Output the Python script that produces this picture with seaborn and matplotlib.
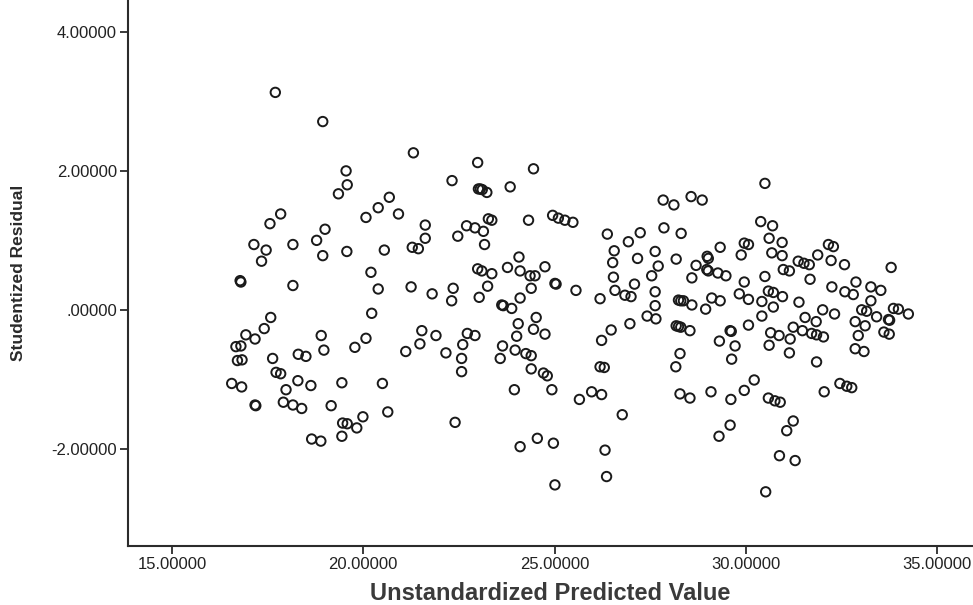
import matplotlib
matplotlib.use("Agg")
import matplotlib.pyplot as plt
import matplotlib.ticker as mticker
import seaborn as sns
import pandas as pd

# Unstandardized predicted values (x) and studentized residuals (y)
predicted = [
    16.78, 16.80, 16.93, 16.67, 16.80, 16.71, 16.83, 16.56, 16.82,
    17.70, 18.94, 19.55, 19.58, 19.35, 17.84, 17.56, 19.00, 18.78, 17.14, 17.46, 18.16, 18.94, 19.57,
    17.34, 18.16, 17.58, 17.41, 17.17, 18.90, 18.97, 17.63, 18.30, 18.50, 17.72, 17.84, 18.29, 17.98,
    18.63, 19.44, 17.17, 17.19, 17.91, 18.16, 18.39, 19.16, 19.46, 19.58, 19.44, 18.65, 18.89,
    21.31, 22.32, 20.68, 20.39, 20.07, 20.92, 21.62, 21.62, 20.55, 21.28, 21.44, 20.20, 20.39, 21.25,
    21.80, 22.35, 22.31, 20.22, 20.07, 19.78, 21.53, 21.90, 21.48, 21.11, 22.16, 20.50, 20.64, 19.99,
    19.83, 22.40,
    22.99, 24.45, 23.01, 23.06, 23.11, 23.23, 23.84, 23.27, 23.36, 24.32, 22.70, 22.92, 23.14, 22.47,
    23.17, 24.07, 22.99, 23.10, 23.36, 23.77, 24.10, 24.36, 24.49, 24.75, 23.25, 23.03, 24.39, 24.10,
    23.62, 23.66, 23.88, 24.52, 24.05, 24.45, 24.75, 22.72, 22.92, 22.60, 24.01, 23.64, 23.97, 24.25,
    24.39, 23.58, 22.57, 22.57, 24.39, 24.71, 24.81, 23.95, 24.93, 24.55, 24.10, 24.97, 25.01,
    24.95, 25.10, 25.27, 25.48, 26.38, 26.93, 27.24, 26.56, 27.17, 26.52, 25.01, 25.04, 25.56, 26.19,
    26.54, 27.09, 26.58, 26.84, 27.00, 27.42, 26.48, 26.23, 26.97, 26.19, 26.30, 25.97, 26.23, 25.65,
    26.77, 26.32, 26.36,
    27.84, 28.12, 28.57, 28.86, 27.86, 28.31, 29.33, 27.63, 29.96, 30.07, 29.88, 28.18, 28.99, 29.02,
    28.70, 27.71, 28.98, 29.02, 29.27, 29.48, 27.54, 28.59, 29.96, 27.63, 29.83, 30.07, 27.63, 28.24,
    28.30, 28.37, 28.59, 29.11, 29.33, 28.95, 27.65, 28.18, 28.24, 28.30, 28.54, 29.59, 29.62, 30.07,
    29.31, 29.72, 29.63, 28.28, 28.17, 29.96, 28.28, 28.54, 29.09, 29.61, 29.59, 29.30,
    30.50, 30.39, 30.70, 30.61, 30.95, 32.16, 32.29, 30.68, 30.95, 31.88, 32.23, 32.58, 31.37, 31.52,
    31.66, 30.98, 31.14, 30.50, 31.68, 32.25, 32.59, 30.59, 30.72, 30.96, 30.42, 30.72, 31.39, 32.01,
    32.32, 30.42, 31.24, 31.55, 31.84, 31.48, 31.72, 31.85, 32.03, 30.65, 30.87, 31.16, 30.61, 31.14,
    31.85, 30.22, 32.05, 32.46, 32.64, 30.59, 30.76, 30.90, 31.24, 31.07, 30.88, 31.29, 30.52,
    33.80, 32.88, 32.81, 33.27, 33.53, 33.27, 33.03, 33.16, 33.42, 33.86, 33.99, 34.25, 33.73, 33.76,
    32.86, 33.12, 32.94, 33.61, 33.75, 32.86, 33.09, 32.77,
]

residual = [
    0.42, 0.40, -0.36, -0.53, -0.52, -0.73, -0.72, -1.06, -1.11,
    3.13, 2.71, 2.00, 1.80, 1.67, 1.38, 1.24, 1.16, 1.00, 0.94, 0.86, 0.94, 0.78, 0.84,
    0.70, 0.35, -0.11, -0.27, -0.42, -0.37, -0.58, -0.70, -0.64, -0.67, -0.90, -0.92, -1.02, -1.15,
    -1.09, -1.05, -1.37, -1.38, -1.33, -1.37, -1.42, -1.38, -1.63, -1.64, -1.82, -1.86, -1.89,
    2.26, 1.86, 1.62, 1.47, 1.33, 1.38, 1.22, 1.03, 0.86, 0.90, 0.88, 0.54, 0.30, 0.33,
    0.23, 0.31, 0.13, -0.05, -0.41, -0.54, -0.30, -0.37, -0.49, -0.60, -0.62, -1.06, -1.47, -1.54,
    -1.70, -1.62,
    2.12, 2.03, 1.74, 1.74, 1.73, 1.69, 1.77, 1.31, 1.29, 1.29, 1.21, 1.18, 1.13, 1.06,
    0.94, 0.76, 0.59, 0.56, 0.52, 0.61, 0.56, 0.49, 0.49, 0.62, 0.34, 0.18, 0.31, 0.17,
    0.07, 0.06, 0.02, -0.11, -0.20, -0.28, -0.35, -0.34, -0.37, -0.50, -0.38, -0.52, -0.58, -0.63,
    -0.66, -0.70, -0.70, -0.89, -0.85, -0.91, -0.95, -1.15, -1.15, -1.85, -1.97, -1.92, -2.52,
    1.36, 1.32, 1.29, 1.26, 1.09, 0.98, 1.11, 0.85, 0.74, 0.68, 0.38, 0.37, 0.28, 0.16,
    0.47, 0.37, 0.28, 0.21, 0.19, -0.09, -0.29, -0.44, -0.20, -0.82, -0.83, -1.18, -1.22, -1.29,
    -1.51, -2.02, -2.40,
    1.58, 1.51, 1.63, 1.58, 1.18, 1.10, 0.90, 0.84, 0.96, 0.94, 0.79, 0.73, 0.77, 0.74,
    0.64, 0.63, 0.58, 0.56, 0.53, 0.49, 0.49, 0.46, 0.40, 0.26, 0.23, 0.15, 0.06, 0.14,
    0.13, 0.13, 0.07, 0.17, 0.13, 0.01, -0.13, -0.23, -0.24, -0.25, -0.30, -0.30, -0.31, -0.22,
    -0.45, -0.52, -0.71, -0.63, -0.82, -1.16, -1.21, -1.27, -1.18, -1.29, -1.66, -1.82,
    1.82, 1.27, 1.21, 1.03, 0.97, 0.94, 0.91, 0.82, 0.78, 0.79, 0.71, 0.65, 0.70, 0.67,
    0.65, 0.58, 0.56, 0.48, 0.44, 0.33, 0.26, 0.27, 0.25, 0.19, 0.12, 0.04, 0.11, 0.00,
    -0.06, -0.09, -0.25, -0.11, -0.17, -0.30, -0.34, -0.36, -0.39, -0.33, -0.37, -0.42, -0.51, -0.62,
    -0.75, -1.01, -1.18, -1.06, -1.10, -1.27, -1.31, -1.33, -1.60, -1.74, -2.10, -2.17, -2.62,
    0.61, 0.40, 0.22, 0.33, 0.28, 0.13, 0.00, -0.02, -0.10, 0.02, 0.01, -0.06, -0.14, -0.15,
    -0.17, -0.23, -0.37, -0.32, -0.35, -0.56, -0.60, -1.12,
]

x_ticks = [15.0, 20.0, 25.0, 30.0, 35.0]
y_ticks = [-2.0, 0.0, 2.0, 4.0]
x_label = "Unstandardized Predicted Value"
y_label = "Studentized Residual"

df = pd.DataFrame({"pred": predicted, "resid": residual})

sns.set_style("white")
plt.rcParams["font.family"] = ["Liberation Sans", "DejaVu Sans"]

fig = plt.figure(figsize=(9.73, 6.05), dpi=100)
ax = fig.add_axes([0.1316, 0.0975, 0.8684, 0.9025])

sns.scatterplot(data=df, x="pred", y="resid", ax=ax, s=46,
                facecolor="none", edgecolor="#1a1a1a", linewidth=1.4,
                marker="o", legend=False)

ax.set_xlim(13.85, 35.94)
ax.set_ylim(-3.40, 4.46)
ax.set_xticks(x_ticks)
ax.set_yticks(y_ticks)


def fmt(v, pos=None):
    s = f"{v:.5f}"
    if s.startswith("0."):
        s = s[1:]
    elif s.startswith("-0.") and abs(v) < 1e-9:
        s = s[2:]
    return s


ax.xaxis.set_major_formatter(mticker.FuncFormatter(fmt))
ax.yaxis.set_major_formatter(mticker.FuncFormatter(fmt))

for side in ["top", "right"]:
    ax.spines[side].set_visible(False)
for side in ["left", "bottom"]:
    ax.spines[side].set_color("#2b2b2b")
    ax.spines[side].set_linewidth(1.5)

ax.tick_params(axis="both", which="major", direction="out", length=6, width=1.3,
               color="#2b2b2b", labelsize=12, labelcolor="#222222", pad=2,
               bottom=True, left=True)

ax.set_xlabel(x_label, fontsize=17, fontweight="bold", color="#3a3a3a", labelpad=7)
ax.set_ylabel(y_label, fontsize=12.5, fontweight="bold", color="#2a2a2a", labelpad=18)

fig.savefig("out.png", dpi=100)
